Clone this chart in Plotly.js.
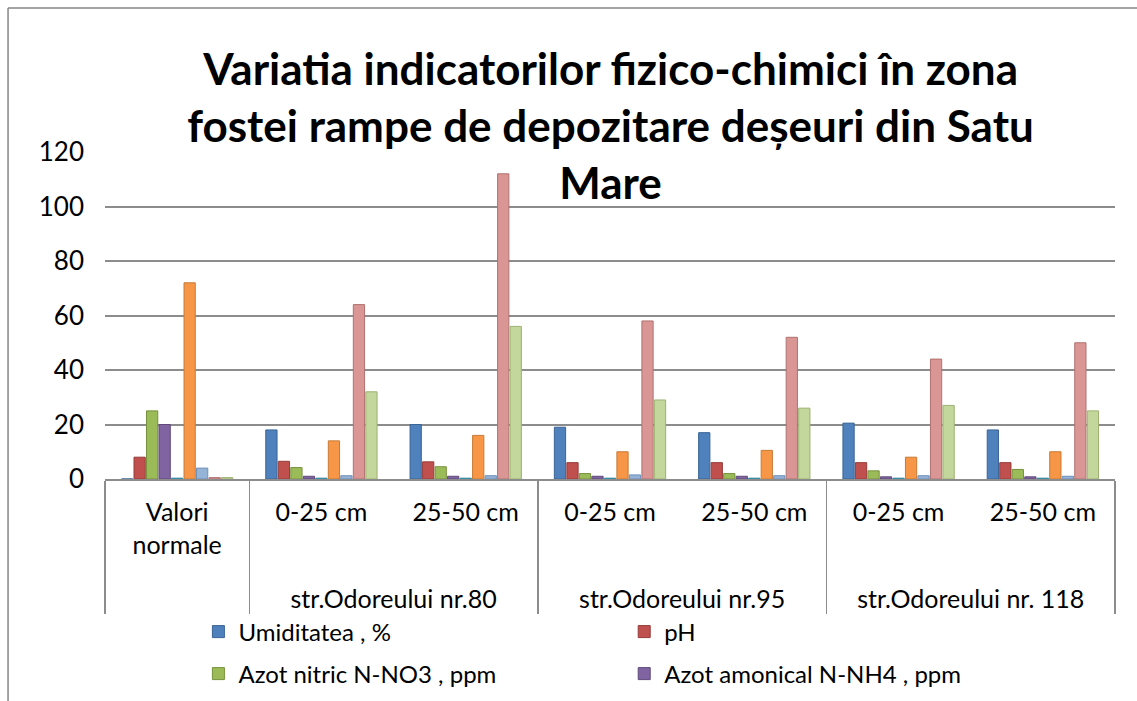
<!DOCTYPE html>
<html>
<head>
<meta charset="utf-8">
<script src="https://cdn.plot.ly/plotly-3.0.1.min.js"></script>
<style>html,body{margin:0;padding:0;background:#fff;}#chart{width:1137px;height:701px;}</style>
</head>
<body>
<div id="chart"></div>
<script>
// Categories (two-level)
const groupLabels = [" ", "str.Odoreului nr.80", "str.Odoreului nr.80", "str.Odoreului nr.95", "str.Odoreului nr.95", "str.Odoreului nr. 118", "str.Odoreului nr. 118"];
const subLabels = ["Valori<br>normale<br>\u00a0", "0-25 cm", "25-50 cm", "0-25 cm", "25-50 cm", "0-25 cm", "25-50 cm"];

// Series values
const umiditatea   = [0, 18, 20, 19, 17, 20.5, 18];
const pH           = [8, 6.5, 6.3, 6, 6, 6, 6];
const azotNitric   = [25, 4.2, 4.5, 2, 2, 3, 3.5];
const azotAmonical = [20, 1, 1, 1, 1, 0.8, 0.8];
const seria5       = [0.3, 0.3, 0.3, 0.3, 0.3, 0.3, 0.3];
const seria6       = [72, 14, 16, 10, 10.5, 8, 10];
const seria7       = [4, 1.2, 1.2, 1.5, 1.2, 1.2, 1];
const seria8       = [0.5, 64, 112, 58, 52, 44, 50];
const seria9       = [0.5, 32, 56, 29, 26, 27, 25];

const seriesNames = ["Umiditatea , %", "pH", "Azot nitric N-NO3 , ppm", "Azot amonical N-NH4 , ppm",
                     "Seria 5", "Seria 6", "Seria 7", "Seria 8", "Seria 9"];
const seriesValues = [umiditatea, pH, azotNitric, azotAmonical, seria5, seria6, seria7, seria8, seria9];
const seriesColors = ["#4F81BD", "#C0504D", "#9BBB59", "#8064A2", "#4BACC6", "#F79646", "#95B3D7", "#D99694", "#C3D69B"];
const seriesLines  = ["#3A6496", "#963C3A", "#76923C", "#5F4A7B", "#31859C", "#C77A36", "#6F8FB8", "#B07270", "#9CB271"];
const legendIds    = ["legend", "legend2", "legend3", "legend4", null, null, null, null, null];

const traces = seriesValues.map((vals, i) => ({
  type: "bar",
  name: seriesNames[i],
  x: [groupLabels, subLabels],
  y: vals,
  marker: {color: seriesColors[i], line: {color: seriesLines[i], width: 1}},
  showlegend: legendIds[i] !== null,
  legend: legendIds[i] || "legend",
  hoverinfo: "y+name"
}));

const FONT = "Lato, 'Open Sans', sans-serif";

function legendAt(x, y) {
  return {
    orientation: "h",
    xref: "container", yref: "container",
    x: x, y: y, xanchor: "left", yanchor: "middle",
    font: {family: FONT, size: 24, color: "#000000"},
    bgcolor: "rgba(0,0,0,0)",
    itemwidth: 30
  };
}

const layout = {
  width: 1137,
  height: 701,
  paper_bgcolor: "#ffffff",
  plot_bgcolor: "#ffffff",
  margin: {l: 105, r: 22, t: 152, b: 222, autoexpand: false},
  font: {family: FONT, size: 20, color: "#000000"},
  title: {
    text: "Variatia indicatorilor fizico-chimici în zona<br>fostei rampe de depozitare deșeuri din Satu<br>Mare",
    font: {family: FONT, size: 44, color: "#000000", weight: "bold"},
    x: 0.537, xanchor: "center",
    y: 0.879, yanchor: "top",
    xref: "container", yref: "container"
  },
  barmode: "group",
  bargap: 0.22,
  bargroupgap: 0.1,
  xaxis: {
    type: "multicategory",
    showline: true,
    linecolor: "#8c8c8c",
    linewidth: 2,
    showgrid: false,
    ticks: "",
    showdividers: true,
    dividercolor: "#8c8c8c",
    dividerwidth: 1.5,
    tickangle: 0,
    tickfont: {family: FONT, size: 25, color: "#000000"},
    ticklabelstandoff: 10
  },
  yaxis: {
    range: [0, 120],
    dtick: 20,
    showgrid: true,
    gridcolor: "#8c8c8c",
    gridwidth: 2,
    zeroline: false,
    showline: false,
    ticks: "",
    tickfont: {family: FONT, size: 26, color: "#000000"},
    ticklabelstandoff: 20
  },
  legend:  legendAt(0.1745, 1 - 632 / 701),
  legend2: legendAt(0.549, 1 - 632 / 701),
  legend3: legendAt(0.1745, 1 - 674 / 701),
  legend4: legendAt(0.549, 1 - 674 / 701),
  shapes: [
    {type: "line", xref: "paper", yref: "paper", x0: -0.096, x1: 1.1, y0: 1.44, y1: 1.44, line: {color: "#868686", width: 1.5}},
    {type: "line", xref: "paper", yref: "paper", x0: -0.096, x1: -0.096, y0: 1.44, y1: -0.7, line: {color: "#868686", width: 1.5}}
  ]
};

Plotly.newPlot("chart", traces, layout, {displayModeBar: false, staticPlot: true});
</script>
</body>
</html>
